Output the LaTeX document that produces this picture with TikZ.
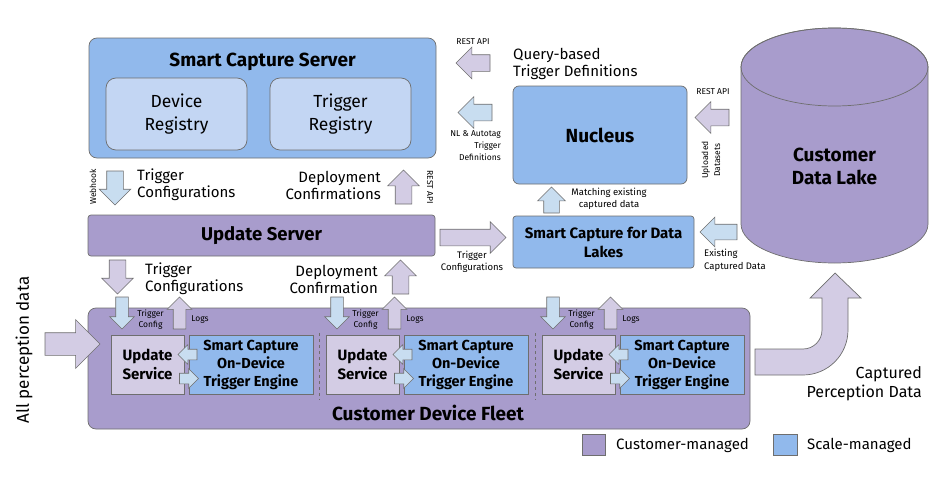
\documentclass[tikz,border=0pt]{standalone}
\usepackage{fontspec}
\setmainfont{Fira Sans}
\usetikzlibrary{arrows.meta,positioning,calc,shapes.arrows}

\definecolor{scaleblue}{HTML}{91B9EC}
\definecolor{regblue}{HTML}{C3D6F3}
\definecolor{custpurple}{HTML}{A89CCC}
\definecolor{palepurple}{HTML}{D3CCE4}
\definecolor{paleblue}{HTML}{C8DDF0}
\definecolor{edgegray}{HTML}{6E6E6E}

\newcommand{\fsz}[2]{\fontsize{#1}{#2}\selectfont}

\begin{document}
\begin{tikzpicture}[x=1pt, y=-1pt,
  blk/.style={draw=edgegray, line width=0.7pt, inner sep=0pt, outer sep=0pt},
  cust/.style={blk, fill=custpurple},
  scl/.style={blk, fill=scaleblue},
  fat/.style={single arrow, draw=edgegray, line width=0.6pt, inner sep=8pt,
    outer sep=0pt, anchor=tail,
    single arrow head extend=7.5pt, minimum height=34pt},
  slim/.style={fat, inner sep=6pt, single arrow head extend=6pt, minimum height=32pt},
  tiny/.style={fat, inner sep=5pt, single arrow head extend=4.5pt, minimum height=19pt},
  toS/.style={shape border rotate=270},
  toN/.style={shape border rotate=90},
  toW/.style={shape border rotate=180},
  lbl/.style={font=\fsz{15}{17}, inner sep=0pt},
  note/.style={font=\fsz{8.5}{12}, inner sep=0pt},
  ttl/.style={font=\fsz{19}{21}\bfseries, inner sep=0pt}
]
\useasboundingbox (0,0) rectangle (943,479);

% Smart Capture Server
\node[scl, rounded corners=8pt, minimum width=347pt, minimum height=120pt] (scs) at (262.5,98) {};
\node[ttl] (scstitle) at (262.5,62) {Smart Capture Server};
\node[blk, fill=regblue, rounded corners=10pt, minimum width=141pt, minimum height=72pt,
  align=center, font=\fsz{17.5}{23}] (devreg) at (176.5,114) {Device\\Registry};
\node[blk, fill=regblue, rounded corners=10pt, minimum width=141pt, minimum height=72pt,
  align=center, font=\fsz{17.5}{23}] (trigreg) at (340.5,114) {Trigger\\Registry};

% Update Server
\node[cust, rounded corners=3pt, minimum width=347pt, minimum height=41pt, font=\fsz{18.5}{20}\bfseries]
  (upd) at (261.5,235.5) {Update Server};

\node[fat, toS, fill=paleblue] (webhook) at (115,171) {};
\node[note, rotate=90] (webhooklbl) at (93,187) {Webhook};
\node[lbl, anchor=west, align=left] (tc1) at (137,185) {Trigger\\Configurations};
\node[fat, toN, fill=palepurple] (restup) at (403.5,204) {};
\node[note, rotate=-90] (restuplbl) at (430,187) {REST API};
\node[lbl, anchor=east, align=right] (dc1) at (381,185) {Deployment\\Confirmations};

% Nucleus side
\node[scl, rounded corners=6pt, minimum width=174pt, minimum height=98pt, font=\fsz{19}{21}\bfseries]
  (nucleus) at (600,135) {Nucleus};
\node[fat, toW, fill=palepurple] (query) at (490,63) {};
\node[note] (restq) at (473,42) {REST API};
\node[lbl, anchor=west, align=left] (querylbl) at (513,64) {Query-based\\Trigger Definitions};
\node[fat, toW, fill=paleblue] (nlarr) at (492,112.5) {};
\node[note, anchor=east, align=right] (nllbl) at (501,146) {NL \& Autotag\\Trigger\\Definitions};
\node[fat, toW, fill=palepurple] (upl) at (729,117.5) {};
\node[note] (restupl) at (713,92) {REST API};
\node[note, rotate=90, align=center] (upllbl) at (711,160) {Uploaded\\Datasets};

\node[scl, rounded corners=3pt, minimum width=181pt, minimum height=52pt, align=center,
  font=\fsz{15}{19}\bfseries] (scdl) at (603.5,242) {Smart Capture for Data\\Lakes};
\node[fat, toN, fill=paleblue, inner xsep=7.5pt, inner ysep=0pt, single arrow head extend=6pt,
  minimum height=26pt] (match) at (551.5,213) {};
\node[font=\fsz{9.5}{12.5}, inner sep=0pt, align=center] (matchlbl) at (609,199) {Matching existing\\captured data};
\node[fat, fill=palepurple, minimum height=66pt] (tcarr) at (440,237.5) {};
\node[font=\fsz{9.5}{12.5}, inner sep=0pt, align=center] (tclbl) at (472,262) {Trigger\\Configurations};
\node[fat, toW, fill=paleblue, inner sep=7.5pt, single arrow head extend=7pt, minimum height=37pt]
  (exist) at (737,232) {};
\node[font=\fsz{9.5}{13}, inner sep=0pt, anchor=west, align=left] (existlbl) at (704,260) {Existing\\Captured Data};

% Customer Data Lake
\draw[blk, fill=custpurple] (741,67) -- (741,224)
  arc[start angle=180, end angle=360, x radius=93.5pt, y radius=39pt] -- (928,67)
  arc[start angle=0, end angle=180, x radius=93.5pt, y radius=39pt] -- cycle;
\draw[blk] (834.5,67) ellipse[x radius=93.5pt, y radius=39pt];
\node[font=\fsz{19}{23}\bfseries, align=center, inner sep=0pt] (lake) at (834.5,166) {Customer\\Data Lake};

% Update Server -> fleet
\node[fat, toS, fill=palepurple] (down2) at (117.5,260) {};
\node[lbl, anchor=west, align=left] (tc2) at (145,279) {Trigger\\Configurations};
\node[fat, toN, fill=palepurple] (up2) at (400.5,294) {};
\node[lbl, anchor=east, align=right] (dc2) at (378,279) {Deployment\\Confirmation};

% Customer Device Fleet
\node[cust, rounded corners=8pt, minimum width=662pt, minimum height=121pt] (fleet) at (419,368.5) {};
\node[font=\fsz{19}{21}\bfseries, inner sep=0pt] (fleetlbl) at (428,413) {Customer Device Fleet};

\foreach \g/\dx in {1/0,2/215,3/431} {
  \node[blk, fill=palepurple, minimum width=73pt, minimum height=59pt, align=center,
    font=\fsz{15}{19}\bfseries] (us\g) at (147.5+\dx,364.5) {Update\\Service};
  \node[scl, minimum width=124pt, minimum height=59pt, align=center,
    font=\fsz{14.5}{18}\bfseries] (eng\g) at (251+\dx,364.5) {Smart Capture\\On-Device\\Trigger Engine};
  \node[tiny, toW, fill=paleblue] (back\g) at (197+\dx,354.5) {};
  \node[tiny, fill=paleblue] (fwd\g) at (179.5+\dx,378.5) {};
  \node[slim, toS, fill=paleblue] (cfg\g) at (122+\dx,297) {};
  \node[font=\fsz{8.5}{11}, inner sep=0pt, align=center] (cfglbl\g) at (150.5+\dx,320) {Trigger\\Config};
  \node[slim, toN, fill=palepurple] (logs\g) at (179.5+\dx,329) {};
  \node[note] (logslbl\g) at (200+\dx,319) {Logs};
}
\foreach \x in {319,535}
  \draw[edgegray, line width=0.6pt, dash pattern=on 3pt off 3pt] (\x,333) -- (\x,400);

% inputs and outputs of the fleet
\node[fat, fill=palepurple, inner sep=11pt, single arrow head extend=13pt, minimum height=55pt]
  (allin) at (45,344) {};
\node[font=\fsz{17}{20}, rotate=90, inner sep=0pt] (alllbl) at (24,350) {All perception data};
\draw[blk, fill=palepurple] (755,349) -- (803,349) arc[start angle=-90, end angle=0, radius=19pt]
  -- (822,298) -- (810,298) -- (835,273) -- (861,298) -- (848,298) -- (848,330)
  arc[start angle=0, end angle=-90, radius=45pt] -- (755,375) -- cycle;
\node[font=\fsz{16}{19}, inner sep=0pt, anchor=east, align=right] (caplbl) at (922,384) {Captured\\Perception Data};

% legend
\node[cust, minimum width=23pt, minimum height=21pt] (legc) at (593.5,444.5) {};
\node[lbl, anchor=west] (legclbl) at (616,445) {Customer-managed};
\node[scl, minimum width=24pt, minimum height=21pt] (legs) at (785,444.5) {};
\node[lbl, anchor=west] (legslbl) at (807,445) {Scale-managed};
\end{tikzpicture}
\end{document}
